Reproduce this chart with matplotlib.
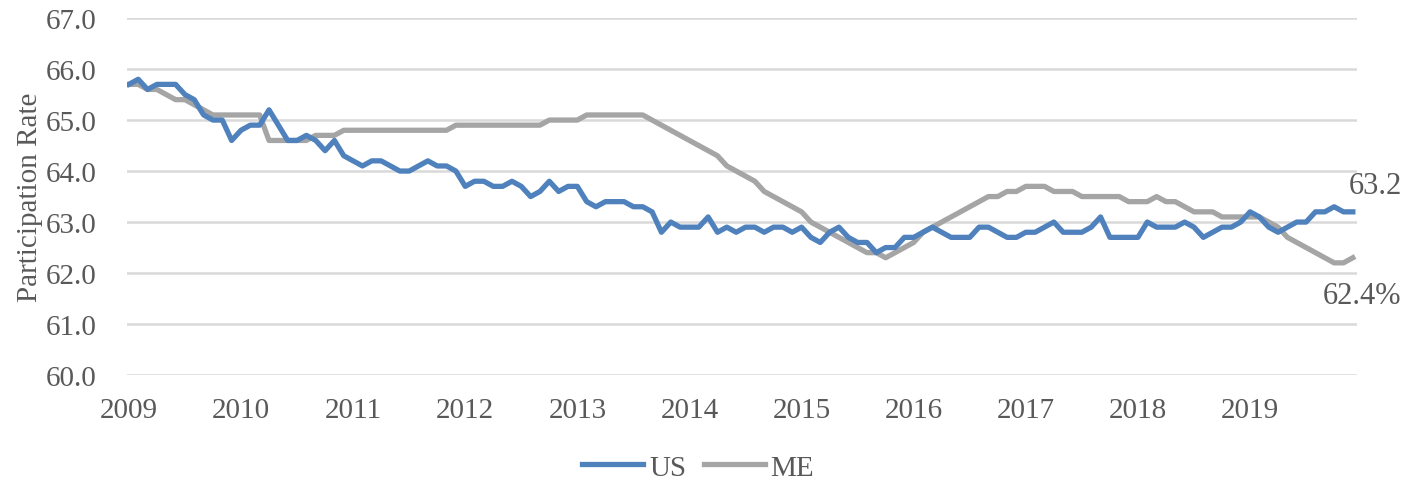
import numpy as np
import matplotlib
matplotlib.use('Agg')
from matplotlib import pyplot as plt

plt.rcParams['font.family'] = ['Liberation Serif', 'DejaVu Serif']

years = ['2009','2010','2011','2012','2013','2014','2015','2016','2017','2018','2019']

# monthly values, Jan 2009 - Dec 2019
us = [65.7,65.8,65.6,65.7,65.7,65.7,65.5,65.4,65.1,65.0,65.0,64.6,
      64.8,64.9,64.9,65.2,64.9,64.6,64.6,64.7,64.6,64.4,64.6,64.3,
      64.2,64.1,64.2,64.2,64.1,64.0,64.0,64.1,64.2,64.1,64.1,64.0,
      63.7,63.8,63.8,63.7,63.7,63.8,63.7,63.5,63.6,63.8,63.6,63.7,
      63.7,63.4,63.3,63.4,63.4,63.4,63.3,63.3,63.2,62.8,63.0,62.9,
      62.9,62.9,63.1,62.8,62.9,62.8,62.9,62.9,62.8,62.9,62.9,62.8,
      62.9,62.7,62.6,62.8,62.9,62.7,62.6,62.6,62.4,62.5,62.5,62.7,
      62.7,62.8,62.9,62.8,62.7,62.7,62.7,62.9,62.9,62.8,62.7,62.7,
      62.8,62.8,62.9,63.0,62.8,62.8,62.8,62.9,63.1,62.7,62.7,62.7,
      62.7,63.0,62.9,62.9,62.9,63.0,62.9,62.7,62.8,62.9,62.9,63.0,
      63.2,63.1,62.9,62.8,62.9,63.0,63.0,63.2,63.2,63.3,63.2,63.2]
me = [65.7,65.7,65.6,65.6,65.5,65.4,65.4,65.3,65.2,65.1,65.1,65.1,
      65.1,65.1,65.1,64.6,64.6,64.6,64.6,64.6,64.7,64.7,64.7,64.8,
      64.8,64.8,64.8,64.8,64.8,64.8,64.8,64.8,64.8,64.8,64.8,64.9,
      64.9,64.9,64.9,64.9,64.9,64.9,64.9,64.9,64.9,65.0,65.0,65.0,
      65.0,65.1,65.1,65.1,65.1,65.1,65.1,65.1,65.0,64.9,64.8,64.7,
      64.6,64.5,64.4,64.3,64.1,64.0,63.9,63.8,63.6,63.5,63.4,63.3,
      63.2,63.0,62.9,62.8,62.7,62.6,62.5,62.4,62.4,62.3,62.4,62.5,
      62.6,62.8,62.9,63.0,63.1,63.2,63.3,63.4,63.5,63.5,63.6,63.6,
      63.7,63.7,63.7,63.6,63.6,63.6,63.5,63.5,63.5,63.5,63.5,63.4,
      63.4,63.4,63.5,63.4,63.4,63.3,63.2,63.2,63.2,63.1,63.1,63.1,
      63.1,63.1,63.0,62.9,62.7,62.6,62.5,62.4,62.3,62.2,62.2,62.3]

x = np.arange(len(us))
txt = '#595959'

fig = plt.figure(figsize=(14.19, 4.89), dpi=100)
ax = fig.add_axes([0.0895, 0.231, 0.8665, 0.730])

ax.plot(x, us, color='#4F81BD', linewidth=3.8, label='US', solid_joinstyle='round', zorder=3)
ax.plot(x, me, color='#A5A5A5', linewidth=3.8, label='ME', solid_joinstyle='round', zorder=2)

ax.text(x[-1] - 0.4, 63.71, '63.2', fontsize=22, color=txt, ha='left', va='center')
ax.text(x[-1] - 3.2, 61.55, '62.4%', fontsize=22, color=txt, ha='left', va='center')

ax.set_xlim(-0.2, 131.4)
ax.set_ylim(60, 67)
ax.set_yticks(np.arange(60, 67.1, 1))
ax.set_yticklabels(['%.1f' % v for v in np.arange(60, 67.1, 1)])
ax.set_xticks(x[::12])
ax.set_xticklabels(years)
ax.tick_params(axis='both', length=0, labelsize=21, colors=txt)
ax.tick_params(axis='x', pad=16)
ax.tick_params(axis='y', pad=22)
ax.grid(True, axis='y', color='#D9D9D9', linewidth=1.8)
ax.set_axisbelow(True)
for s in ax.spines.values():
    s.set_visible(False)
ax.set_ylabel('Participation Rate', fontsize=21, color=txt, labelpad=2)

fig.legend(*ax.get_legend_handles_labels(), loc='center', bbox_to_anchor=(0.492, 0.042),
           ncol=2, frameon=False, fontsize=21, handlelength=2.1, columnspacing=0.6,
           handletextpad=0.2, labelcolor=txt)

fig.savefig('out.png', dpi=100)
